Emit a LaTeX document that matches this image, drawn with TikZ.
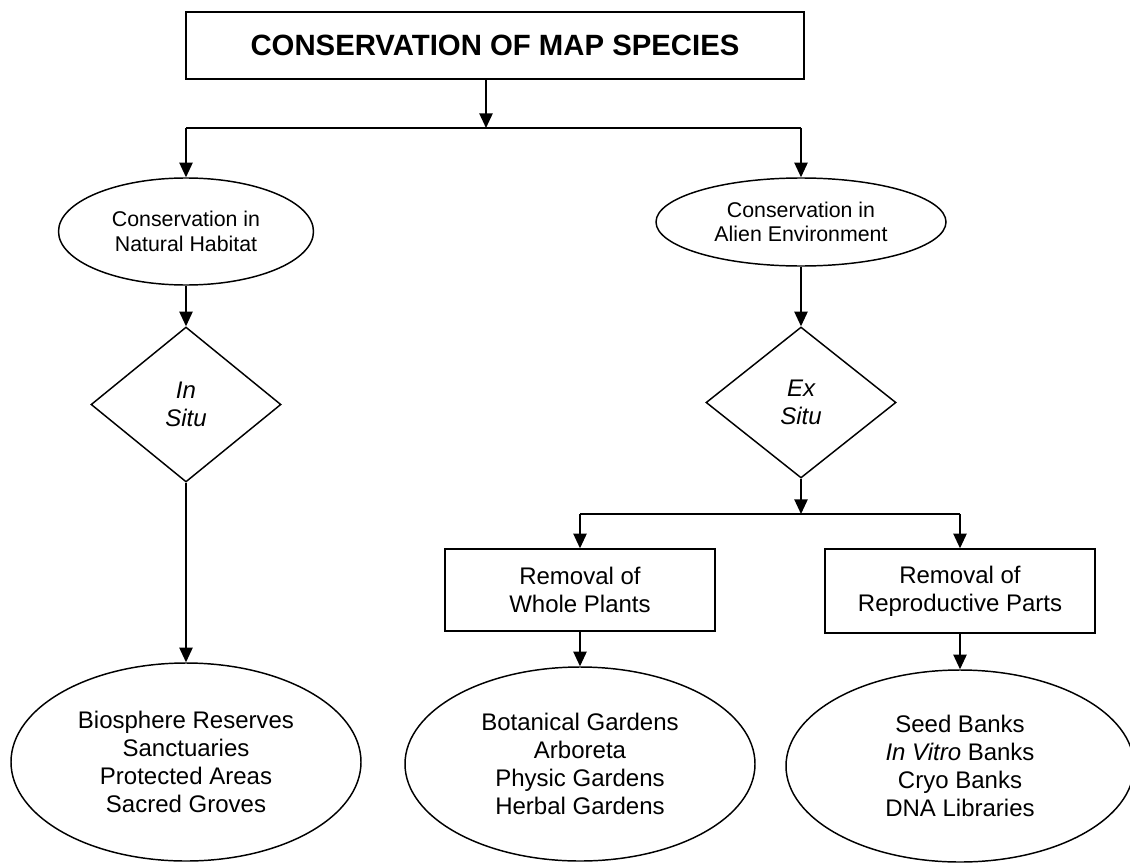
\documentclass[tikz,border=0pt]{standalone}
\usepackage{fontspec}
\setmainfont{Liberation Sans}
\usetikzlibrary{shapes.geometric,arrows.meta}
\begin{document}
\begin{tikzpicture}[x=0.75pt,y=-0.75pt,
  shp/.style={draw, line width=1.1pt, inner sep=0pt, align=center},
  arr/.style={line width=1.1pt, -{Triangle[length=11pt,width=10pt]}},
  ln/.style={line width=1.1pt},
  big/.style={font=\fontsize{18}{21}\selectfont},
  mid/.style={font=\fontsize{16}{18.3}\selectfont},
  ell/.style={shp, ellipse},
  box/.style={shp, rectangle},
  dia/.style={shp, diamond}
]
\useasboundingbox (0,0) rectangle (1130,863);

% nodes
\node[box, minimum width=463.5pt, minimum height=50.25pt, font=\fontsize{22}{26}\selectfont\bfseries] (title) at (495,45.5) {CONSERVATION OF MAP SPECIES};

\node[ell, mid, minimum width=191.25pt, minimum height=80.25pt] (nat) at (186,231.5) {Conservation in\\Natural Habitat};
\node[ell, mid, minimum width=217.5pt, minimum height=66pt] (alien) at (801,222) {Conservation in\\Alien Environment};

\node[dia, big, minimum width=142.5pt, minimum height=116.25pt] (d1) at (186,404.5) {\itshape In\\\itshape Situ};
\node[dia, big, minimum width=142.5pt, minimum height=113.25pt] (d2) at (801,402.5) {\itshape Ex\\\itshape Situ};

\node[box, big, minimum width=202.5pt, minimum height=61.5pt] (wp) at (580,590) {Removal of\\Whole Plants};
\node[box, big, minimum width=202.5pt, minimum height=63pt] (rp) at (960,591) {Removal of\\Reproductive Parts};

\node[ell, big, minimum width=262.5pt, minimum height=148.5pt] (e1) at (186,762) {Biosphere Reserves\\Sanctuaries\\Protected Areas\\Sacred Groves};
\node[ell, big, minimum width=262.5pt, minimum height=145.5pt] (e2) at (580,764) {Botanical Gardens\\Arboreta\\Physic Gardens\\Herbal Gardens};
\node[ell, big, minimum width=261pt, minimum height=144pt] (e3) at (960,766) {Seed Banks\\\textit{In Vitro} Banks\\Cryo Banks\\DNA Libraries};

% junctions
\coordinate (j1) at (486,128);
\coordinate (jl) at (186,128);
\coordinate (jr) at (801,128);
\coordinate (j2) at (801,514);
\coordinate (j2l) at (580,514);
\coordinate (j2r) at (960,514);

% connectors
\draw[arr] (title.south -| j1) -- (j1);
\draw[ln] (jl) -- (jr);
\draw[arr] (jl) -- (nat.north);
\draw[arr] (jr) -- (alien.north);
\draw[arr] (nat.south) -- (d1.north);
\draw[arr] (alien.south) -- (d2.north);
\draw[arr] (d1.south) -- (e1.north);
\draw[arr] (d2.south) -- (j2);
\draw[ln] (j2l) -- (j2r);
\draw[arr] (j2l) -- (wp.north);
\draw[arr] (j2r) -- (rp.north);
\draw[arr] (wp.south) -- (e2.north);
\draw[arr] (rp.south) -- (e3.north);
\end{tikzpicture}
\end{document}
